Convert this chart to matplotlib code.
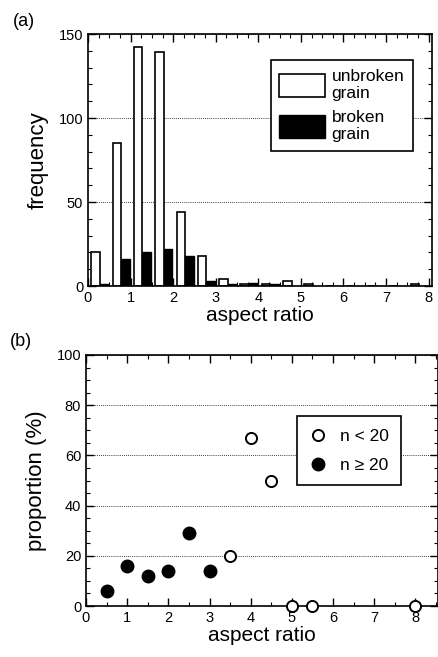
import numpy as np
import matplotlib
matplotlib.use('Agg')
import matplotlib.pyplot as plt
from matplotlib.ticker import MultipleLocator

plt.rcParams['font.family'] = ['Liberation Sans', 'DejaVu Sans']

# Data (a): counts per 0.5-wide aspect-ratio bin
bin_lo = np.arange(0, 8, 0.5)
unbroken = [20, 85, 142, 139, 44, 18, 4, 1, 1, 3, 1, 0, 0, 0, 0, 1]
broken = [1, 16, 20, 22, 18, 3, 1, 2, 1, 0, 0, 0, 0, 0, 0, 0]

# Data (b): proportion of broken grains
ratio_big = [0.5, 1.0, 1.5, 2.0, 2.5, 3.0]
prop_big = [6, 16, 12, 14, 29, 14]
ratio_small = [3.5, 4.0, 4.5, 5.0, 5.5, 8.0]
prop_small = [20, 67, 50, 0, 0, 0]

x_ticks = [0, 1, 2, 3, 4, 5, 6, 7, 8]

fig = plt.figure(figsize=(4.39, 6.57), dpi=100)
ax1 = fig.add_axes([88/439, 1-286/657, 344/439, 252/657])
ax2 = fig.add_axes([86/439, 1-606/657, 352/439, 251/657])


def style(ax):
    ax.tick_params(which='both', direction='in', top=True, right=True, labelsize=10.5)
    ax.tick_params(which='major', length=6, width=1)
    ax.tick_params(which='minor', length=3, width=0.8)
    for s in ax.spines.values():
        s.set_linewidth(1.2)
    ax.yaxis.grid(True, which='major', linestyle=(0, (1, 1.5)), color='black', linewidth=0.6)
    ax.set_axisbelow(True)


# (a) histogram
ax1.bar(bin_lo + 0.08, unbroken, width=0.2, align='edge', color='white',
        edgecolor='black', linewidth=1.2, label='unbroken\ngrain', zorder=2)
ax1.bar(bin_lo + 0.28, broken, width=0.2, align='edge', color='black',
        edgecolor='black', linewidth=1.0, label='broken\ngrain', zorder=3)
ax1.set_xlim(0, 8.08)
ax1.set_ylim(0, 150)
ax1.set_xticks(x_ticks)
ax1.xaxis.set_minor_locator(MultipleLocator(0.25))
ax1.set_yticks([0, 50, 100, 150])
ax1.yaxis.set_minor_locator(MultipleLocator(10))
style(ax1)
ax1.set_xlabel('aspect ratio', fontsize=15, labelpad=1)
ax1.set_ylabel('frequency', fontsize=16, labelpad=7)
leg = ax1.legend(loc='upper right', bbox_to_anchor=(0.97, 0.93), fontsize=12.5,
                 frameon=True, fancybox=False, edgecolor='black', framealpha=1,
                 handlelength=2.6, handleheight=1.6, labelspacing=0.5,
                 handletextpad=0.4, borderpad=0.5)
leg.get_frame().set_linewidth(1.2)
fig.text(13/439, 1-22/657, '(a)', fontsize=13, va='center')

# (b) proportion
ax2.plot(ratio_small, prop_small, 'o', markersize=8, markerfacecolor='white',
         markeredgecolor='black', markeredgewidth=1.4, clip_on=False, zorder=4,
         label='n < 20')
ax2.plot(ratio_big, prop_big, 'o', markersize=9, color='black', clip_on=False,
         zorder=4, label='n \u2265 20')
ax2.set_xlim(0, 8.55)
ax2.set_ylim(0, 100)
ax2.set_xticks(x_ticks)
ax2.xaxis.set_minor_locator(MultipleLocator(0.5))
ax2.set_yticks([0, 20, 40, 60, 80, 100])
ax2.yaxis.set_minor_locator(MultipleLocator(5))
style(ax2)
ax2.set_xlabel('aspect ratio', fontsize=15, labelpad=1)
ax2.set_ylabel('proportion (%)', fontsize=16, labelpad=7)
leg2 = ax2.legend(loc='upper right', bbox_to_anchor=(0.92, 0.79), fontsize=12.5,
                  frameon=True, fancybox=False, edgecolor='black', framealpha=1,
                  handlelength=1.0, labelspacing=0.8, handletextpad=0.8,
                  borderpad=0.7, numpoints=1)
leg2.get_frame().set_linewidth(1.2)
fig.text(10/439, 1-342/657, '(b)', fontsize=13, va='center')

fig.savefig('out.png', dpi=100)
